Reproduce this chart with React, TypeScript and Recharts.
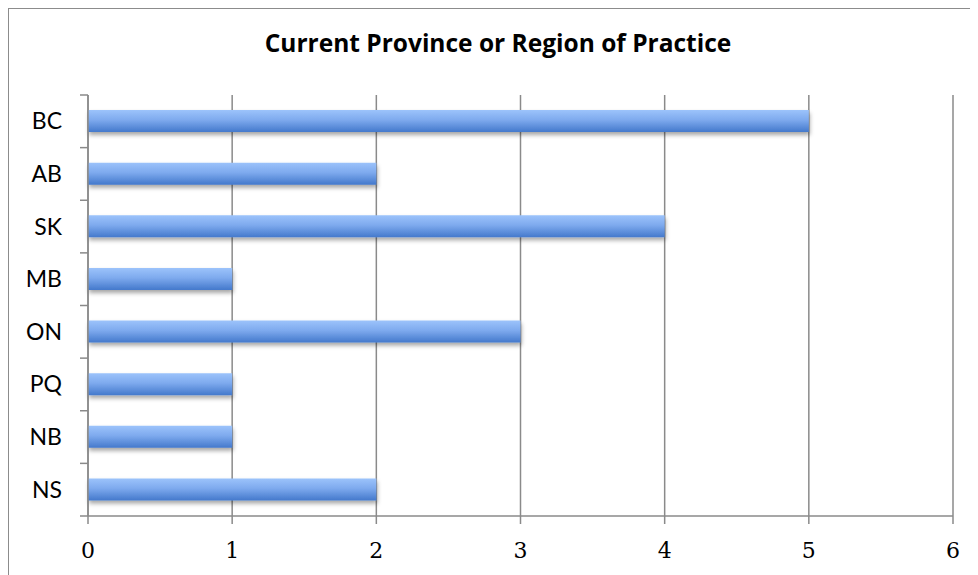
import React from "react";
import { BarChart, Bar, XAxis, YAxis, CartesianGrid } from "recharts";

const provinces = ["BC", "AB", "SK", "MB", "ON", "PQ", "NB", "NS"];
const counts = [5, 2, 4, 1, 3, 1, 1, 2];
const xTicks = [0, 1, 2, 3, 4, 5, 6];

const data = provinces.map((p, i) => ({ region: p, count: counts[i] }));

const PLOT_H = 421;
const BAND = PLOT_H / provinces.length;
const AXIS = "#8a8a8a";

function CatTick(props: any) {
  const { x, y, payload, index } = props;
  const ax = x + 26;
  return (
    <g>
      <line x1={ax - 8} x2={ax} y1={y - BAND / 2} y2={y - BAND / 2} stroke={AXIS} strokeWidth={1.5} />
      {index === provinces.length - 1 && (
        <line x1={ax - 8} x2={ax} y1={y + BAND / 2} y2={y + BAND / 2} stroke={AXIS} strokeWidth={1.5} />
      )}
      <text x={x} y={y} dy={8} textAnchor="end" fontFamily="Lato" fontSize={23} fill="#000">
        {payload.value}
      </text>
    </g>
  );
}

export default function App() {
  return (
    <div style={{ width: 970, height: 567, overflow: "hidden" }}>
      <div style={{ position: "relative", width: 1000, height: 600, border: "1px solid #8c8c8c", background: "#fff" }}>
        <div
          style={{
            position: "absolute", left: 0, top: 22, width: 978, textAlign: "center",
            fontFamily: "Open Sans", fontWeight: 700, fontSize: 24.5, lineHeight: "24.5px", color: "#000",
          }}
        >
          Current Province or Region of Practice
        </div>
        <BarChart
          width={970}
          height={566}
          data={data}
          layout="vertical"
          margin={{ top: 86, right: 26, bottom: 9, left: 10 }}
        >
          <defs>
            <linearGradient id="barGrad" x1="0" y1="0" x2="0" y2="1">
              <stop offset="0%" stopColor="#9cc3fb" />
              <stop offset="45%" stopColor="#7eaaee" />
              <stop offset="100%" stopColor="#4479cc" />
            </linearGradient>
            <filter id="barShadow" x="-5%" y="-30%" width="110%" height="190%">
              <feDropShadow dx="1" dy="3" stdDeviation="2.2" floodColor="#000" floodOpacity="0.35" />
            </filter>
          </defs>
          <CartesianGrid horizontal={false} stroke={AXIS} strokeWidth={1.5} />
          <XAxis
            type="number"
            domain={[0, 6]}
            ticks={xTicks}
            interval={0}
            stroke={AXIS}
            strokeWidth={1.5}
            tickSize={8}
            tickMargin={18}
            height={50}
            tick={{ fill: "#000", fontFamily: "DejaVu Serif", fontSize: 22 }}
          />
          <YAxis
            type="category"
            dataKey="region"
            width={69}
            stroke={AXIS}
            strokeWidth={1.5}
            tickLine={false}
            tickSize={8}
            tickMargin={18}
            interval={0}
            tick={<CatTick />}
          />
          <Bar
            dataKey="count"
            barSize={22}
            fill="url(#barGrad)"
            style={{ filter: "url(#barShadow)" }}
            isAnimationActive={false}
          />
        </BarChart>
      </div>
    </div>
  );
}
